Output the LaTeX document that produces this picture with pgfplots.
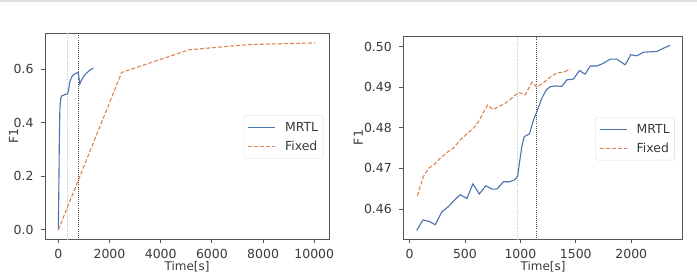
\documentclass[border=0pt]{standalone}
\usepackage{pgfplots}
\pgfplotsset{compat=1.18}
\usepackage{fontspec}
\setmainfont{DejaVu Sans}

\definecolor{mrtl}{HTML}{4C72B0}
\definecolor{fixedc}{HTML}{DD8452}
\definecolor{framec}{HTML}{555555}
\definecolor{txt}{HTML}{3A3A3A}

\newcommand{\lblfont}{\fontsize{12.5}{15}\selectfont}

\pgfplotsset{
  f1panel/.style={
    scale only axis,
    anchor=south west,
    axis line style={framec, line width=0.9bp},
    tick style={framec, line width=0.8bp},
    tick align=outside,
    major tick length=4bp,
    tick pos=left,
    ticklabel style={font=\lblfont, color=txt},
    xticklabel style={yshift=-3bp},
    yticklabel style={xshift=-4bp},
    /pgf/number format/assume math mode=true,
    /pgf/number format/1000 sep={},
    scaled ticks=false,
    xlabel={Time[s]},
    ylabel={F1},
    label style={font=\lblfont, color=txt},
    xlabel style={font=\fontsize{12}{14}\selectfont, at={(axis description cs:0.5,0)}, anchor=base, yshift=-31bp},
    legend cell align=left,
    legend style={draw=gray!30, rounded corners=2bp, fill=white,
      font=\lblfont, text=txt, row sep=5bp, column sep=8bp,
      inner xsep=3.5bp, inner ysep=5bp,
      nodes={inner sep=1.5bp}},
    legend image code/.code={\draw[##1] (0bp,0bp) -- (27bp,0bp);},
  },
  mrtlline/.style={mrtl, line width=1.1bp},
  fixedline/.style={fixedc, line width=1.1bp, dash pattern=on 4bp off 2bp},
  firstmark/.style={gray!45, line width=0.8bp, dash pattern=on 0.8bp off 1.3bp},
  secondmark/.style={black!70, line width=0.8bp, dash pattern=on 0.8bp off 1.3bp},
}

\begin{document}
\begin{tikzpicture}
\path[use as bounding box, clip] (0,0) rectangle (697bp,273bp);
\fill[gray!25] (0,271bp) rectangle (697bp,273bp);

% ---- full training run ----
\begin{axis}[f1panel,
  at={(45bp,34bp)}, width=284bp, height=206bp,
  xmin=-520, xmax=10575, ymin=-0.034, ymax=0.735,
  xtick={0,2000,4000,6000,8000,10000},
  ytick={0,0.2,0.4,0.6},
  yticklabel style={/pgf/number format/fixed, /pgf/number format/precision=1, /pgf/number format/fixed zerofill},
  ylabel style={at={([xshift=-31.5bp]axis description cs:0,0.5)}, anchor=center},
  legend style={at={(0.98,0.495)}, anchor=east},
]
\addplot[firstmark, forget plot] coordinates {(352,-0.1) (352,1)};
\addplot[secondmark, forget plot] coordinates {(781,-0.1) (781,1)};
\addplot[mrtlline] coordinates {
  (0,0) (20,0.15) (40,0.33) (60,0.45) (90,0.490) (133,0.500) (250,0.505)
  (360,0.508) (400,0.520) (450,0.553) (520,0.570) (600,0.580) (700,0.585)
  (781,0.588) (810,0.565) (840,0.545) (900,0.558) (1000,0.574) (1100,0.585)
  (1230,0.596) (1367,0.604)
};
\addlegendentry{MRTL}
\addplot[fixedline] coordinates {
  (0,0) (2476,0.588) (2700,0.595) (5100,0.672) (6000,0.680) (7500,0.692) (10030,0.698)
};
\addlegendentry{Fixed}
\end{axis}

% ---- close-up of the early phase ----
\begin{axis}[f1panel,
  at={(403.3bp,34bp)}, width=279.4bp, height=203bp,
  xmin=-56, xmax=2464, ymin=0.4526, ymax=0.5026,
  xtick={0,500,1000,1500,2000},
  ytick={0.46,0.47,0.48,0.49,0.50},
  yticklabel style={/pgf/number format/fixed, /pgf/number format/precision=2, /pgf/number format/fixed zerofill},
  ylabel style={at={([xshift=-45bp]axis description cs:0,0.5)}, anchor=center},
  legend style={at={(0.972,0.4936)}, anchor=east},
]
\addplot[firstmark, forget plot] coordinates {(971,0.44) (971,0.52)};
\addplot[secondmark, forget plot] coordinates {(1140,0.44) (1140,0.52)};
\addplot[mrtlline] coordinates {
  (65,0.4547) (121,0.4573) (180,0.4569) (232,0.4561) (292,0.4593) (352,0.4606)
  (406,0.4622) (457,0.4635) (518,0.4626) (572,0.4662) (629,0.4637) (689,0.4657)
  (743,0.4649) (788,0.4649) (848,0.4667) (902,0.4667) (950,0.4672) (975,0.4681)
  (1013,0.4754) (1034,0.4778) (1082,0.4785) (1118,0.4819) (1149,0.4840)
  (1194,0.4873) (1233,0.4893) (1269,0.4901) (1314,0.4903) (1374,0.4902)
  (1419,0.4918) (1479,0.4920) (1533,0.4941) (1584,0.4932) (1629,0.4952)
  (1690,0.4952) (1750,0.4959) (1810,0.4969) (1870,0.4969) (1945,0.4955)
  (1996,0.4980) (2050,0.4977) (2110,0.4986) (2170,0.4987) (2231,0.4988)
  (2291,0.4996) (2351,0.5003)
};
\addlegendentry{MRTL}
\addplot[fixedline] coordinates {
  (72,0.4632) (96,0.4655) (126,0.4680) (171,0.4700) (216,0.4708) (277,0.4725)
  (337,0.4739) (397,0.4750) (457,0.4770) (518,0.4785) (577,0.4799) (622,0.4815)
  (667,0.4838) (703,0.4856) (752,0.4845) (802,0.4852) (863,0.4860) (923,0.4873)
  (983,0.4887) (1043,0.4881) (1104,0.4912) (1149,0.4900) (1209,0.4911)
  (1269,0.4925) (1329,0.4935) (1389,0.4937) (1449,0.4944)
};
\addlegendentry{Fixed}
\end{axis}
\end{tikzpicture}
\end{document}
